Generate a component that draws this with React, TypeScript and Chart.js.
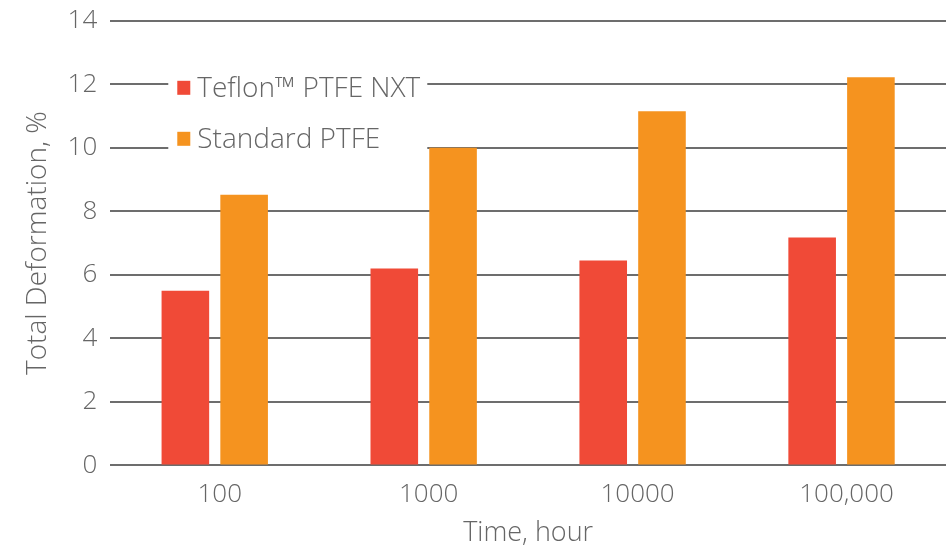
import React, { useEffect, useRef } from "react";
import { Chart, registerables } from "chart.js";

Chart.register(...registerables);

const categories = ["100", "1000", "10000", "100,000"];
const teflonValues = [5.5, 6.2, 6.45, 7.18];
const standardValues = [8.52, 10.0, 11.15, 12.22];
const seriesNames = ["Teflon\u2122 PTFE NXT", "Standard PTFE"];
const seriesColors = ["#F04A37", "#F5931F"];
const yTitle = "Total Deformation, %";
const xTitle = "Time, hour";

const FONT = "'Open Sans', Roboto, sans-serif";
const TEXT = "#666666";
const SIZE = 26;

const legendPlugin = {
  id: "insideLegend",
  afterDraw(chart: any) {
    const { ctx, chartArea } = chart;
    const left = chartArea.left;
    const top = chartArea.top;
    ctx.save();
    ctx.fillStyle = "#ffffff";
    ctx.fillRect(left + 58, top + 48, 259, 92);
    ctx.font = `300 28px ${FONT}`;
    ctx.textBaseline = "middle";
    ctx.textAlign = "left";
    chart.data.datasets.forEach((ds: any, i: number) => {
      const y = top + 67 + i * 51;
      ctx.fillStyle = ds.backgroundColor;
      ctx.fillRect(left + 67, y - 7, 13, 14);
      ctx.fillStyle = TEXT;
      ctx.fillText(ds.label, left + 87, y + 1);
    });
    ctx.restore();
  },
};

export default function App() {
  const ref = useRef<HTMLCanvasElement | null>(null);
  useEffect(() => {
    if (!ref.current) return;
    const font = { family: FONT, size: SIZE, weight: "300" as any };
    const chart = new Chart(ref.current, {
      type: "bar",
      data: {
        labels: categories,
        datasets: [
          {
            label: seriesNames[0],
            data: teflonValues,
            backgroundColor: seriesColors[0],
            categoryPercentage: 0.5625,
            barPercentage: 0.81,
          },
          {
            label: seriesNames[1],
            data: standardValues,
            backgroundColor: seriesColors[1],
            categoryPercentage: 0.5625,
            barPercentage: 0.81,
          },
        ],
      },
      options: {
        animation: false,
        responsive: true,
        maintainAspectRatio: false,
        layout: { padding: { top: 0, right: -8, bottom: 1, left: 21 } },
        plugins: {
          legend: { display: false },
          tooltip: { enabled: false },
        },
        scales: {
          x: {
            grid: { display: false, drawTicks: false },
            border: { display: false },
            ticks: { color: TEXT, font, padding: 14, labelOffset: 5 },
            title: {
              display: true,
              text: xTitle,
              color: TEXT,
              font: { ...font, size: 27 },
              padding: { top: -7, bottom: 0 },
            },
          },
          y: {
            min: 0,
            max: 14,
            ticks: { stepSize: 2, color: TEXT, font: { ...font, lineHeight: 0.6 }, padding: 13 },
            grid: { color: "#6d6d6d", lineWidth: 2, drawTicks: false },
            border: { display: false },
            title: {
              display: true,
              text: yTitle,
              color: TEXT,
              font: { ...font, size: 28 },
              padding: { top: 0, bottom: 0 },
            },
          },
        },
      },
      plugins: [legendPlugin],
    });
    return () => chart.destroy();
  }, []);
  return (
    <div style={{ position: "absolute", left: 0, top: 0, width: 946, height: 551 }}>
      <canvas ref={ref} />
    </div>
  );
}
